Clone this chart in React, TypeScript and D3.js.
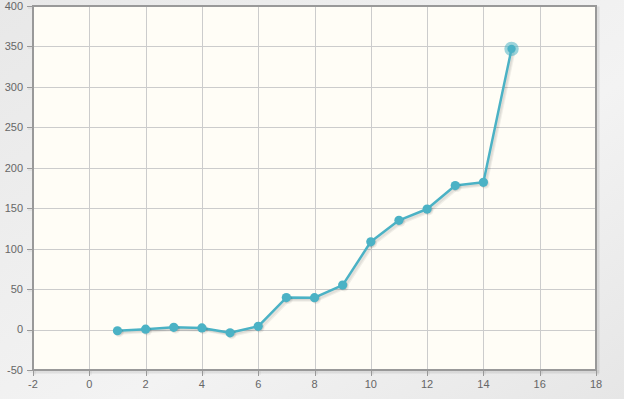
import { useEffect, useRef } from "react";
import * as d3 from "d3";

const xValues = [1, 2, 3, 4, 5, 6, 7, 8, 9, 10, 11, 12, 13, 14, 15];
const yValues = [-1.5, 0.5, 2.8, 2, -4, 4, 39.5, 39.4, 55, 108.5, 135, 149, 178, 182, 347];
const xTicks = [-2, 0, 2, 4, 6, 8, 10, 12, 14, 16, 18];
const yTicks = [-50, 0, 50, 100, 150, 200, 250, 300, 350, 400];

const W = 624;
const H = 399;
const PLOT = { left: 33, right: 596, top: 6, bottom: 370 };
const LINE = "#4bb2c5";

export default function App() {
  const svgRef = useRef<SVGSVGElement>(null);

  useEffect(() => {
    if (!svgRef.current) return;
    const svg = d3.select(svgRef.current);
    svg.selectAll("*").remove();

    const x = d3.scaleLinear().domain([-2, 18]).range([PLOT.left, PLOT.right]);
    const y = d3.scaleLinear().domain([-50, 400]).range([PLOT.bottom, PLOT.top]);

    const defs = svg.append("defs");
    const bg = defs
      .append("linearGradient")
      .attr("id", "bg")
      .attr("x1", "0")
      .attr("y1", "0")
      .attr("x2", "1")
      .attr("y2", "1");
    bg.append("stop").attr("offset", "0").attr("stop-color", "#e8e8e8");
    bg.append("stop").attr("offset", "0.6").attr("stop-color", "#f3f3f3");
    bg.append("stop").attr("offset", "1").attr("stop-color", "#e6e6e6");

    svg.append("rect").attr("width", W).attr("height", H).attr("fill", "url(#bg)");

    // plot shadow
    svg
      .append("rect")
      .attr("x", PLOT.left + 2)
      .attr("y", PLOT.top + 2)
      .attr("width", PLOT.right - PLOT.left)
      .attr("height", PLOT.bottom - PLOT.top)
      .attr("fill", "none")
      .attr("stroke", "#000")
      .attr("stroke-opacity", 0.08)
      .attr("stroke-width", 3);

    svg
      .append("rect")
      .attr("x", PLOT.left)
      .attr("y", PLOT.top)
      .attr("width", PLOT.right - PLOT.left)
      .attr("height", PLOT.bottom - PLOT.top)
      .attr("fill", "#fffdf6");

    const grid = svg.append("g").attr("stroke", "#cccccc").attr("stroke-width", 1);
    xTicks.slice(1, -1).forEach((t) => {
      grid
        .append("line")
        .attr("x1", Math.round(x(t)) + 0.5)
        .attr("x2", Math.round(x(t)) + 0.5)
        .attr("y1", PLOT.top)
        .attr("y2", PLOT.bottom);
    });
    yTicks.slice(1, -1).forEach((t) => {
      grid
        .append("line")
        .attr("y1", Math.round(y(t)) + 0.5)
        .attr("y2", Math.round(y(t)) + 0.5)
        .attr("x1", PLOT.left)
        .attr("x2", PLOT.right);
    });

    // tick marks
    const tk = svg.append("g").attr("stroke", "#999").attr("stroke-width", 1);
    yTicks.forEach((t) => {
      const yy = Math.round(y(t)) + 0.5;
      tk.append("line").attr("x1", PLOT.left - 6).attr("x2", PLOT.left).attr("y1", yy).attr("y2", yy);
      tk.append("line")
        .attr("x1", PLOT.left - 5)
        .attr("x2", PLOT.left)
        .attr("y1", yy + 1.5)
        .attr("y2", yy + 1.5)
        .attr("stroke", "#000")
        .attr("stroke-opacity", 0.07);
    });
    xTicks.forEach((t) => {
      const xx = Math.round(x(t)) + 0.5;
      tk.append("line").attr("x1", xx).attr("x2", xx).attr("y1", PLOT.bottom).attr("y2", PLOT.bottom + 6);
      tk.append("line")
        .attr("x1", xx + 1.5)
        .attr("x2", xx + 1.5)
        .attr("y1", PLOT.bottom)
        .attr("y2", PLOT.bottom + 5)
        .attr("stroke", "#000")
        .attr("stroke-opacity", 0.07);
    });

    // border
    svg
      .append("rect")
      .attr("x", PLOT.left)
      .attr("y", PLOT.top)
      .attr("width", PLOT.right - PLOT.left)
      .attr("height", PLOT.bottom - PLOT.top)
      .attr("fill", "none")
      .attr("stroke", "#999999")
      .attr("stroke-width", 2);

    // labels
    const lbl = svg
      .append("g")
      .attr("font-family", "'Liberation Sans', Arial, sans-serif")
      .attr("font-size", 11)
      .attr("fill", "#666666");
    yTicks.forEach((t) => {
      lbl
        .append("text")
        .attr("x", 23)
        .attr("y", y(t))
        .attr("dy", "0.35em")
        .attr("text-anchor", "end")
        .text(t);
    });
    xTicks.forEach((t) => {
      lbl
        .append("text")
        .attr("x", x(t))
        .attr("y", 388)
        .attr("text-anchor", "middle")
        .text(t);
    });

    const pts = xValues.map((v, i) => [v, yValues[i]] as [number, number]);
    const line = d3
      .line<[number, number]>()
      .x((d) => x(d[0]))
      .y((d) => y(d[1]));

    // shadow line
    [3, 2, 1].forEach((off) => {
      svg
        .append("path")
        .attr("d", line(pts))
        .attr("fill", "none")
        .attr("stroke", "#000")
        .attr("stroke-opacity", 0.06)
        .attr("stroke-width", 2.5)
        .attr("stroke-linejoin", "round")
        .attr("transform", `translate(${off * 0.9},${off * 0.9})`);
    });

    svg
      .append("path")
      .attr("d", line(pts))
      .attr("fill", "none")
      .attr("stroke", LINE)
      .attr("stroke-width", 2.5)
      .attr("stroke-linejoin", "round");

    const last = pts.length - 1;
    pts.forEach((p, i) => {
      if (i === last) return;
      [2, 1].forEach((off) => {
        svg
          .append("circle")
          .attr("cx", x(p[0]) + off * 0.9)
          .attr("cy", y(p[1]) + off * 0.9)
          .attr("r", 4.6)
          .attr("fill", "#000")
          .attr("fill-opacity", 0.06);
      });
      svg.append("circle").attr("cx", x(p[0])).attr("cy", y(p[1])).attr("r", 4.6).attr("fill", LINE);
    });

    // highlighted last point
    const lp = pts[last];
    svg
      .append("circle")
      .attr("cx", x(lp[0]))
      .attr("cy", y(lp[1]))
      .attr("r", 7.2)
      .attr("fill", LINE)
      .attr("fill-opacity", 0.55);
    svg
      .append("circle")
      .attr("cx", x(lp[0]))
      .attr("cy", y(lp[1]))
      .attr("r", 4.2)
      .attr("fill", LINE);
  }, []);

  return (
    <div style={{ position: "absolute", left: 0, top: 0 }}>
      <svg ref={svgRef} width={W} height={H} style={{ display: "block" }} />
    </div>
  );
}
